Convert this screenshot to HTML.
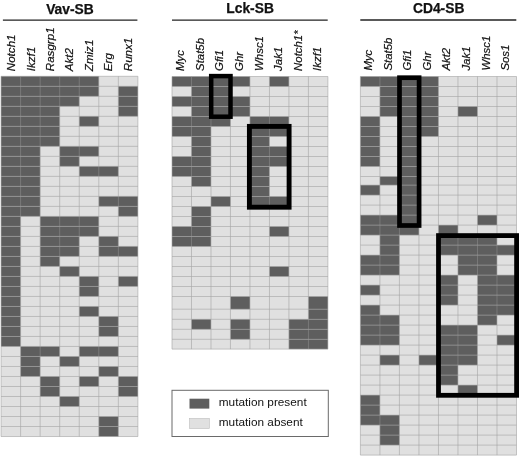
<!DOCTYPE html>
<html><head><meta charset="utf-8"><title>Mutation matrix</title>
<style>
html,body{margin:0;padding:0;background:#fff;}
svg{display:block;font-family:"Liberation Sans",Arial,sans-serif;}
</style></head>
<body>
<svg width="520" height="457" viewBox="0 0 520 457">
<rect width="520" height="457" fill="#fff"/>
<rect x="1.05" y="76.30" width="136.85" height="360.22" fill="#e0e0e0"/>
<rect x="1.05" y="76.30" width="97.75" height="10.01" fill="#5e5e5e"/>
<rect x="1.05" y="86.31" width="97.75" height="10.01" fill="#5e5e5e"/>
<rect x="118.35" y="86.31" width="19.55" height="10.01" fill="#5e5e5e"/>
<rect x="1.05" y="96.31" width="78.20" height="10.01" fill="#5e5e5e"/>
<rect x="118.35" y="96.31" width="19.55" height="10.01" fill="#5e5e5e"/>
<rect x="1.05" y="106.32" width="58.65" height="10.01" fill="#5e5e5e"/>
<rect x="118.35" y="106.32" width="19.55" height="10.01" fill="#5e5e5e"/>
<rect x="1.05" y="116.32" width="58.65" height="10.01" fill="#5e5e5e"/>
<rect x="79.25" y="116.32" width="19.55" height="10.01" fill="#5e5e5e"/>
<rect x="1.05" y="126.33" width="58.65" height="10.01" fill="#5e5e5e"/>
<rect x="1.05" y="136.34" width="58.65" height="10.01" fill="#5e5e5e"/>
<rect x="1.05" y="146.34" width="39.10" height="10.01" fill="#5e5e5e"/>
<rect x="59.70" y="146.34" width="39.10" height="10.01" fill="#5e5e5e"/>
<rect x="1.05" y="156.35" width="39.10" height="10.01" fill="#5e5e5e"/>
<rect x="59.70" y="156.35" width="19.55" height="10.01" fill="#5e5e5e"/>
<rect x="1.05" y="166.35" width="39.10" height="10.01" fill="#5e5e5e"/>
<rect x="79.25" y="166.35" width="39.10" height="10.01" fill="#5e5e5e"/>
<rect x="1.05" y="176.36" width="39.10" height="10.01" fill="#5e5e5e"/>
<rect x="1.05" y="186.37" width="39.10" height="10.01" fill="#5e5e5e"/>
<rect x="1.05" y="196.37" width="39.10" height="10.01" fill="#5e5e5e"/>
<rect x="98.80" y="196.37" width="39.10" height="10.01" fill="#5e5e5e"/>
<rect x="1.05" y="206.38" width="39.10" height="10.01" fill="#5e5e5e"/>
<rect x="118.35" y="206.38" width="19.55" height="10.01" fill="#5e5e5e"/>
<rect x="1.05" y="216.38" width="19.55" height="10.01" fill="#5e5e5e"/>
<rect x="40.15" y="216.38" width="58.65" height="10.01" fill="#5e5e5e"/>
<rect x="1.05" y="226.39" width="19.55" height="10.01" fill="#5e5e5e"/>
<rect x="40.15" y="226.39" width="58.65" height="10.01" fill="#5e5e5e"/>
<rect x="1.05" y="236.40" width="19.55" height="10.01" fill="#5e5e5e"/>
<rect x="40.15" y="236.40" width="39.10" height="10.01" fill="#5e5e5e"/>
<rect x="98.80" y="236.40" width="19.55" height="10.01" fill="#5e5e5e"/>
<rect x="1.05" y="246.40" width="19.55" height="10.01" fill="#5e5e5e"/>
<rect x="40.15" y="246.40" width="39.10" height="10.01" fill="#5e5e5e"/>
<rect x="98.80" y="246.40" width="39.10" height="10.01" fill="#5e5e5e"/>
<rect x="1.05" y="256.41" width="19.55" height="10.01" fill="#5e5e5e"/>
<rect x="40.15" y="256.41" width="19.55" height="10.01" fill="#5e5e5e"/>
<rect x="1.05" y="266.41" width="19.55" height="10.01" fill="#5e5e5e"/>
<rect x="59.70" y="266.41" width="19.55" height="10.01" fill="#5e5e5e"/>
<rect x="1.05" y="276.42" width="19.55" height="10.01" fill="#5e5e5e"/>
<rect x="79.25" y="276.42" width="19.55" height="10.01" fill="#5e5e5e"/>
<rect x="118.35" y="276.42" width="19.55" height="10.01" fill="#5e5e5e"/>
<rect x="1.05" y="286.43" width="19.55" height="10.01" fill="#5e5e5e"/>
<rect x="79.25" y="286.43" width="19.55" height="10.01" fill="#5e5e5e"/>
<rect x="1.05" y="296.43" width="19.55" height="10.01" fill="#5e5e5e"/>
<rect x="1.05" y="306.44" width="19.55" height="10.01" fill="#5e5e5e"/>
<rect x="79.25" y="306.44" width="19.55" height="10.01" fill="#5e5e5e"/>
<rect x="1.05" y="316.44" width="19.55" height="10.01" fill="#5e5e5e"/>
<rect x="98.80" y="316.44" width="19.55" height="10.01" fill="#5e5e5e"/>
<rect x="1.05" y="326.45" width="19.55" height="10.01" fill="#5e5e5e"/>
<rect x="98.80" y="326.45" width="19.55" height="10.01" fill="#5e5e5e"/>
<rect x="1.05" y="336.46" width="19.55" height="10.01" fill="#5e5e5e"/>
<rect x="20.60" y="346.46" width="39.10" height="10.01" fill="#5e5e5e"/>
<rect x="79.25" y="346.46" width="39.10" height="10.01" fill="#5e5e5e"/>
<rect x="20.60" y="356.47" width="19.55" height="10.01" fill="#5e5e5e"/>
<rect x="59.70" y="356.47" width="19.55" height="10.01" fill="#5e5e5e"/>
<rect x="20.60" y="366.47" width="19.55" height="10.01" fill="#5e5e5e"/>
<rect x="98.80" y="366.47" width="19.55" height="10.01" fill="#5e5e5e"/>
<rect x="40.15" y="376.48" width="19.55" height="10.01" fill="#5e5e5e"/>
<rect x="79.25" y="376.48" width="19.55" height="10.01" fill="#5e5e5e"/>
<rect x="118.35" y="376.48" width="19.55" height="10.01" fill="#5e5e5e"/>
<rect x="40.15" y="386.49" width="19.55" height="10.01" fill="#5e5e5e"/>
<rect x="118.35" y="386.49" width="19.55" height="10.01" fill="#5e5e5e"/>
<rect x="59.70" y="396.49" width="19.55" height="10.01" fill="#5e5e5e"/>
<rect x="98.80" y="416.50" width="19.55" height="10.01" fill="#5e5e5e"/>
<rect x="98.80" y="426.51" width="19.55" height="10.01" fill="#5e5e5e"/>
<path d="M20.60 76.30V86.31M20.60 86.31V96.31M20.60 96.31V106.32M20.60 106.32V116.32M20.60 116.32V126.33M20.60 126.33V136.34M20.60 136.34V146.34M20.60 146.34V156.35M20.60 156.35V166.35M20.60 166.35V176.36M20.60 176.36V186.37M20.60 186.37V196.37M20.60 196.37V206.38M20.60 206.38V216.38M40.15 76.30V86.31M40.15 86.31V96.31M40.15 96.31V106.32M40.15 106.32V116.32M40.15 116.32V126.33M40.15 126.33V136.34M40.15 136.34V146.34M40.15 346.46V356.47M59.70 76.30V86.31M59.70 86.31V96.31M59.70 96.31V106.32M59.70 216.38V226.39M59.70 226.39V236.40M59.70 236.40V246.40M59.70 246.40V256.41M79.25 76.30V86.31M79.25 86.31V96.31M79.25 146.34V156.35M79.25 216.38V226.39M79.25 226.39V236.40M98.80 166.35V176.36M98.80 346.46V356.47M118.35 196.37V206.38M118.35 246.40V256.41" stroke="#8c8c8c" stroke-width="0.6" fill="none"/>
<path d="M1.05 76.30V86.31M1.05 86.31V96.31M1.05 96.31V106.32M1.05 106.32V116.32M1.05 116.32V126.33M1.05 126.33V136.34M1.05 136.34V146.34M1.05 146.34V156.35M1.05 156.35V166.35M1.05 166.35V176.36M1.05 176.36V186.37M1.05 186.37V196.37M1.05 196.37V206.38M1.05 206.38V216.38M1.05 216.38V226.39M1.05 226.39V236.40M1.05 236.40V246.40M1.05 246.40V256.41M1.05 256.41V266.41M1.05 266.41V276.42M1.05 276.42V286.43M1.05 286.43V296.43M1.05 296.43V306.44M1.05 306.44V316.44M1.05 316.44V326.45M1.05 326.45V336.46M1.05 336.46V346.46M1.05 346.46V356.47M1.05 356.47V366.47M1.05 366.47V376.48M1.05 376.48V386.49M1.05 386.49V396.49M1.05 396.49V406.50M1.05 406.50V416.50M1.05 416.50V426.51M1.05 426.51V436.52M20.60 216.38V226.39M20.60 226.39V236.40M20.60 236.40V246.40M20.60 246.40V256.41M20.60 256.41V266.41M20.60 266.41V276.42M20.60 276.42V286.43M20.60 286.43V296.43M20.60 296.43V306.44M20.60 306.44V316.44M20.60 316.44V326.45M20.60 326.45V336.46M20.60 336.46V346.46M20.60 346.46V356.47M20.60 356.47V366.47M20.60 366.47V376.48M20.60 376.48V386.49M20.60 386.49V396.49M20.60 396.49V406.50M20.60 406.50V416.50M20.60 416.50V426.51M20.60 426.51V436.52M40.15 146.34V156.35M40.15 156.35V166.35M40.15 166.35V176.36M40.15 176.36V186.37M40.15 186.37V196.37M40.15 196.37V206.38M40.15 206.38V216.38M40.15 216.38V226.39M40.15 226.39V236.40M40.15 236.40V246.40M40.15 246.40V256.41M40.15 256.41V266.41M40.15 266.41V276.42M40.15 276.42V286.43M40.15 286.43V296.43M40.15 296.43V306.44M40.15 306.44V316.44M40.15 316.44V326.45M40.15 326.45V336.46M40.15 336.46V346.46M40.15 356.47V366.47M40.15 366.47V376.48M40.15 376.48V386.49M40.15 386.49V396.49M40.15 396.49V406.50M40.15 406.50V416.50M40.15 416.50V426.51M40.15 426.51V436.52M59.70 106.32V116.32M59.70 116.32V126.33M59.70 126.33V136.34M59.70 136.34V146.34M59.70 146.34V156.35M59.70 156.35V166.35M59.70 166.35V176.36M59.70 176.36V186.37M59.70 186.37V196.37M59.70 196.37V206.38M59.70 206.38V216.38M59.70 256.41V266.41M59.70 266.41V276.42M59.70 276.42V286.43M59.70 286.43V296.43M59.70 296.43V306.44M59.70 306.44V316.44M59.70 316.44V326.45M59.70 326.45V336.46M59.70 336.46V346.46M59.70 346.46V356.47M59.70 356.47V366.47M59.70 366.47V376.48M59.70 376.48V386.49M59.70 386.49V396.49M59.70 396.49V406.50M59.70 406.50V416.50M59.70 416.50V426.51M59.70 426.51V436.52M79.25 96.31V106.32M79.25 106.32V116.32M79.25 116.32V126.33M79.25 126.33V136.34M79.25 136.34V146.34M79.25 156.35V166.35M79.25 166.35V176.36M79.25 176.36V186.37M79.25 186.37V196.37M79.25 196.37V206.38M79.25 206.38V216.38M79.25 236.40V246.40M79.25 246.40V256.41M79.25 256.41V266.41M79.25 266.41V276.42M79.25 276.42V286.43M79.25 286.43V296.43M79.25 296.43V306.44M79.25 306.44V316.44M79.25 316.44V326.45M79.25 326.45V336.46M79.25 336.46V346.46M79.25 346.46V356.47M79.25 356.47V366.47M79.25 366.47V376.48M79.25 376.48V386.49M79.25 386.49V396.49M79.25 396.49V406.50M79.25 406.50V416.50M79.25 416.50V426.51M79.25 426.51V436.52M98.80 76.30V86.31M98.80 86.31V96.31M98.80 96.31V106.32M98.80 106.32V116.32M98.80 116.32V126.33M98.80 126.33V136.34M98.80 136.34V146.34M98.80 146.34V156.35M98.80 156.35V166.35M98.80 176.36V186.37M98.80 186.37V196.37M98.80 196.37V206.38M98.80 206.38V216.38M98.80 216.38V226.39M98.80 226.39V236.40M98.80 236.40V246.40M98.80 246.40V256.41M98.80 256.41V266.41M98.80 266.41V276.42M98.80 276.42V286.43M98.80 286.43V296.43M98.80 296.43V306.44M98.80 306.44V316.44M98.80 316.44V326.45M98.80 326.45V336.46M98.80 336.46V346.46M98.80 356.47V366.47M98.80 366.47V376.48M98.80 376.48V386.49M98.80 386.49V396.49M98.80 396.49V406.50M98.80 406.50V416.50M98.80 416.50V426.51M98.80 426.51V436.52M118.35 76.30V86.31M118.35 86.31V96.31M118.35 96.31V106.32M118.35 106.32V116.32M118.35 116.32V126.33M118.35 126.33V136.34M118.35 136.34V146.34M118.35 146.34V156.35M118.35 156.35V166.35M118.35 166.35V176.36M118.35 176.36V186.37M118.35 186.37V196.37M118.35 206.38V216.38M118.35 216.38V226.39M118.35 226.39V236.40M118.35 236.40V246.40M118.35 256.41V266.41M118.35 266.41V276.42M118.35 276.42V286.43M118.35 286.43V296.43M118.35 296.43V306.44M118.35 306.44V316.44M118.35 316.44V326.45M118.35 326.45V336.46M118.35 336.46V346.46M118.35 346.46V356.47M118.35 356.47V366.47M118.35 366.47V376.48M118.35 376.48V386.49M118.35 386.49V396.49M118.35 396.49V406.50M118.35 406.50V416.50M118.35 416.50V426.51M118.35 426.51V436.52M137.90 76.30V86.31M137.90 86.31V96.31M137.90 96.31V106.32M137.90 106.32V116.32M137.90 116.32V126.33M137.90 126.33V136.34M137.90 136.34V146.34M137.90 146.34V156.35M137.90 156.35V166.35M137.90 166.35V176.36M137.90 176.36V186.37M137.90 186.37V196.37M137.90 196.37V206.38M137.90 206.38V216.38M137.90 216.38V226.39M137.90 226.39V236.40M137.90 236.40V246.40M137.90 246.40V256.41M137.90 256.41V266.41M137.90 266.41V276.42M137.90 276.42V286.43M137.90 286.43V296.43M137.90 296.43V306.44M137.90 306.44V316.44M137.90 316.44V326.45M137.90 326.45V336.46M137.90 336.46V346.46M137.90 346.46V356.47M137.90 356.47V366.47M137.90 366.47V376.48M137.90 376.48V386.49M137.90 386.49V396.49M137.90 396.49V406.50M137.90 406.50V416.50M137.90 416.50V426.51M137.90 426.51V436.52" stroke="#a2a2a2" stroke-width="0.6" fill="none"/>
<path d="M1.05 76.30H137.90M1.05 86.31H137.90M1.05 96.31H137.90M1.05 106.32H137.90M1.05 116.32H137.90M1.05 126.33H137.90M1.05 136.34H137.90M1.05 146.34H137.90M1.05 156.35H137.90M1.05 166.35H137.90M1.05 176.36H137.90M1.05 186.37H137.90M1.05 196.37H137.90M1.05 206.38H137.90M1.05 216.38H137.90M1.05 226.39H137.90M1.05 236.40H137.90M1.05 246.40H137.90M1.05 256.41H137.90M1.05 266.41H137.90M1.05 276.42H137.90M1.05 286.43H137.90M1.05 296.43H137.90M1.05 306.44H137.90M1.05 316.44H137.90M1.05 326.45H137.90M1.05 336.46H137.90M1.05 346.46H137.90M1.05 356.47H137.90M1.05 366.47H137.90M1.05 376.48H137.90M1.05 386.49H137.90M1.05 396.49H137.90M1.05 406.50H137.90M1.05 416.50H137.90M1.05 426.51H137.90M1.05 436.52H137.90" stroke="#a2a2a2" stroke-width="0.6" fill="none"/>
<rect x="172.00" y="76.50" width="155.90" height="272.60" fill="#e0e0e0"/>
<rect x="172.00" y="76.50" width="77.95" height="10.00" fill="#5e5e5e"/>
<rect x="269.44" y="76.50" width="19.49" height="10.00" fill="#5e5e5e"/>
<rect x="191.49" y="86.50" width="38.97" height="10.00" fill="#5e5e5e"/>
<rect x="172.00" y="96.50" width="77.95" height="10.00" fill="#5e5e5e"/>
<rect x="191.49" y="106.50" width="58.46" height="10.00" fill="#5e5e5e"/>
<rect x="172.00" y="116.50" width="58.46" height="10.00" fill="#5e5e5e"/>
<rect x="249.95" y="116.50" width="38.97" height="10.00" fill="#5e5e5e"/>
<rect x="172.00" y="126.50" width="38.97" height="10.00" fill="#5e5e5e"/>
<rect x="249.95" y="126.50" width="38.97" height="10.00" fill="#5e5e5e"/>
<rect x="191.49" y="136.50" width="19.49" height="10.00" fill="#5e5e5e"/>
<rect x="249.95" y="136.50" width="19.49" height="10.00" fill="#5e5e5e"/>
<rect x="191.49" y="146.50" width="19.49" height="10.00" fill="#5e5e5e"/>
<rect x="249.95" y="146.50" width="38.97" height="10.00" fill="#5e5e5e"/>
<rect x="172.00" y="156.50" width="38.97" height="10.00" fill="#5e5e5e"/>
<rect x="249.95" y="156.50" width="38.97" height="10.00" fill="#5e5e5e"/>
<rect x="172.00" y="166.50" width="38.97" height="10.00" fill="#5e5e5e"/>
<rect x="249.95" y="166.50" width="19.49" height="10.00" fill="#5e5e5e"/>
<rect x="191.49" y="176.50" width="19.49" height="10.00" fill="#5e5e5e"/>
<rect x="249.95" y="176.50" width="19.49" height="10.00" fill="#5e5e5e"/>
<rect x="249.95" y="186.50" width="19.49" height="10.00" fill="#5e5e5e"/>
<rect x="210.97" y="196.50" width="19.49" height="10.00" fill="#5e5e5e"/>
<rect x="249.95" y="196.50" width="38.97" height="10.00" fill="#5e5e5e"/>
<rect x="191.49" y="206.50" width="19.49" height="10.00" fill="#5e5e5e"/>
<rect x="191.49" y="216.50" width="19.49" height="10.00" fill="#5e5e5e"/>
<rect x="172.00" y="226.50" width="38.97" height="10.00" fill="#5e5e5e"/>
<rect x="269.44" y="226.50" width="19.49" height="10.00" fill="#5e5e5e"/>
<rect x="172.00" y="236.50" width="38.97" height="10.00" fill="#5e5e5e"/>
<rect x="269.44" y="266.50" width="19.49" height="10.00" fill="#5e5e5e"/>
<rect x="230.46" y="296.50" width="19.49" height="12.70" fill="#5e5e5e"/>
<rect x="308.41" y="296.50" width="19.49" height="12.70" fill="#5e5e5e"/>
<rect x="308.41" y="309.20" width="19.49" height="10.10" fill="#5e5e5e"/>
<rect x="191.49" y="319.30" width="19.49" height="10.00" fill="#5e5e5e"/>
<rect x="230.46" y="319.30" width="19.49" height="10.00" fill="#5e5e5e"/>
<rect x="288.92" y="319.30" width="38.98" height="10.00" fill="#5e5e5e"/>
<rect x="230.46" y="329.30" width="19.49" height="10.00" fill="#5e5e5e"/>
<rect x="288.92" y="329.30" width="38.98" height="10.00" fill="#5e5e5e"/>
<rect x="288.92" y="339.30" width="38.98" height="9.80" fill="#5e5e5e"/>
<path d="M191.49 76.50V86.50M191.49 96.50V106.50M191.49 116.50V126.50M191.49 126.50V136.50M191.49 156.50V166.50M191.49 166.50V176.50M191.49 226.50V236.50M191.49 236.50V246.50M210.97 76.50V86.50M210.97 86.50V96.50M210.97 96.50V106.50M210.97 106.50V116.50M210.97 116.50V126.50M230.46 76.50V86.50M230.46 96.50V106.50M230.46 106.50V116.50M269.44 116.50V126.50M269.44 126.50V136.50M269.44 146.50V156.50M269.44 156.50V166.50M269.44 196.50V206.50M308.41 319.30V329.30M308.41 329.30V339.30M308.41 339.30V349.10" stroke="#8c8c8c" stroke-width="0.6" fill="none"/>
<path d="M172.00 76.50V86.50M172.00 86.50V96.50M172.00 96.50V106.50M172.00 106.50V116.50M172.00 116.50V126.50M172.00 126.50V136.50M172.00 136.50V146.50M172.00 146.50V156.50M172.00 156.50V166.50M172.00 166.50V176.50M172.00 176.50V186.50M172.00 186.50V196.50M172.00 196.50V206.50M172.00 206.50V216.50M172.00 216.50V226.50M172.00 226.50V236.50M172.00 236.50V246.50M172.00 246.50V256.50M172.00 256.50V266.50M172.00 266.50V276.50M172.00 276.50V286.50M172.00 286.50V296.50M172.00 296.50V309.20M172.00 309.20V319.30M172.00 319.30V329.30M172.00 329.30V339.30M172.00 339.30V349.10M191.49 86.50V96.50M191.49 106.50V116.50M191.49 136.50V146.50M191.49 146.50V156.50M191.49 176.50V186.50M191.49 186.50V196.50M191.49 196.50V206.50M191.49 206.50V216.50M191.49 216.50V226.50M191.49 246.50V256.50M191.49 256.50V266.50M191.49 266.50V276.50M191.49 276.50V286.50M191.49 286.50V296.50M191.49 296.50V309.20M191.49 309.20V319.30M191.49 319.30V329.30M191.49 329.30V339.30M191.49 339.30V349.10M210.97 126.50V136.50M210.97 136.50V146.50M210.97 146.50V156.50M210.97 156.50V166.50M210.97 166.50V176.50M210.97 176.50V186.50M210.97 186.50V196.50M210.97 196.50V206.50M210.97 206.50V216.50M210.97 216.50V226.50M210.97 226.50V236.50M210.97 236.50V246.50M210.97 246.50V256.50M210.97 256.50V266.50M210.97 266.50V276.50M210.97 276.50V286.50M210.97 286.50V296.50M210.97 296.50V309.20M210.97 309.20V319.30M210.97 319.30V329.30M210.97 329.30V339.30M210.97 339.30V349.10M230.46 86.50V96.50M230.46 116.50V126.50M230.46 126.50V136.50M230.46 136.50V146.50M230.46 146.50V156.50M230.46 156.50V166.50M230.46 166.50V176.50M230.46 176.50V186.50M230.46 186.50V196.50M230.46 196.50V206.50M230.46 206.50V216.50M230.46 216.50V226.50M230.46 226.50V236.50M230.46 236.50V246.50M230.46 246.50V256.50M230.46 256.50V266.50M230.46 266.50V276.50M230.46 276.50V286.50M230.46 286.50V296.50M230.46 296.50V309.20M230.46 309.20V319.30M230.46 319.30V329.30M230.46 329.30V339.30M230.46 339.30V349.10M249.95 76.50V86.50M249.95 86.50V96.50M249.95 96.50V106.50M249.95 106.50V116.50M249.95 116.50V126.50M249.95 126.50V136.50M249.95 136.50V146.50M249.95 146.50V156.50M249.95 156.50V166.50M249.95 166.50V176.50M249.95 176.50V186.50M249.95 186.50V196.50M249.95 196.50V206.50M249.95 206.50V216.50M249.95 216.50V226.50M249.95 226.50V236.50M249.95 236.50V246.50M249.95 246.50V256.50M249.95 256.50V266.50M249.95 266.50V276.50M249.95 276.50V286.50M249.95 286.50V296.50M249.95 296.50V309.20M249.95 309.20V319.30M249.95 319.30V329.30M249.95 329.30V339.30M249.95 339.30V349.10M269.44 76.50V86.50M269.44 86.50V96.50M269.44 96.50V106.50M269.44 106.50V116.50M269.44 136.50V146.50M269.44 166.50V176.50M269.44 176.50V186.50M269.44 186.50V196.50M269.44 206.50V216.50M269.44 216.50V226.50M269.44 226.50V236.50M269.44 236.50V246.50M269.44 246.50V256.50M269.44 256.50V266.50M269.44 266.50V276.50M269.44 276.50V286.50M269.44 286.50V296.50M269.44 296.50V309.20M269.44 309.20V319.30M269.44 319.30V329.30M269.44 329.30V339.30M269.44 339.30V349.10M288.92 76.50V86.50M288.92 86.50V96.50M288.92 96.50V106.50M288.92 106.50V116.50M288.92 116.50V126.50M288.92 126.50V136.50M288.92 136.50V146.50M288.92 146.50V156.50M288.92 156.50V166.50M288.92 166.50V176.50M288.92 176.50V186.50M288.92 186.50V196.50M288.92 196.50V206.50M288.92 206.50V216.50M288.92 216.50V226.50M288.92 226.50V236.50M288.92 236.50V246.50M288.92 246.50V256.50M288.92 256.50V266.50M288.92 266.50V276.50M288.92 276.50V286.50M288.92 286.50V296.50M288.92 296.50V309.20M288.92 309.20V319.30M288.92 319.30V329.30M288.92 329.30V339.30M288.92 339.30V349.10M308.41 76.50V86.50M308.41 86.50V96.50M308.41 96.50V106.50M308.41 106.50V116.50M308.41 116.50V126.50M308.41 126.50V136.50M308.41 136.50V146.50M308.41 146.50V156.50M308.41 156.50V166.50M308.41 166.50V176.50M308.41 176.50V186.50M308.41 186.50V196.50M308.41 196.50V206.50M308.41 206.50V216.50M308.41 216.50V226.50M308.41 226.50V236.50M308.41 236.50V246.50M308.41 246.50V256.50M308.41 256.50V266.50M308.41 266.50V276.50M308.41 276.50V286.50M308.41 286.50V296.50M308.41 296.50V309.20M308.41 309.20V319.30M327.90 76.50V86.50M327.90 86.50V96.50M327.90 96.50V106.50M327.90 106.50V116.50M327.90 116.50V126.50M327.90 126.50V136.50M327.90 136.50V146.50M327.90 146.50V156.50M327.90 156.50V166.50M327.90 166.50V176.50M327.90 176.50V186.50M327.90 186.50V196.50M327.90 196.50V206.50M327.90 206.50V216.50M327.90 216.50V226.50M327.90 226.50V236.50M327.90 236.50V246.50M327.90 246.50V256.50M327.90 256.50V266.50M327.90 266.50V276.50M327.90 276.50V286.50M327.90 286.50V296.50M327.90 296.50V309.20M327.90 309.20V319.30M327.90 319.30V329.30M327.90 329.30V339.30M327.90 339.30V349.10" stroke="#a2a2a2" stroke-width="0.6" fill="none"/>
<path d="M172.00 76.50H327.90M172.00 86.50H327.90M172.00 96.50H327.90M172.00 106.50H327.90M172.00 116.50H327.90M172.00 126.50H327.90M172.00 136.50H327.90M172.00 146.50H327.90M172.00 156.50H327.90M172.00 166.50H327.90M172.00 176.50H327.90M172.00 186.50H327.90M172.00 196.50H327.90M172.00 206.50H327.90M172.00 216.50H327.90M172.00 226.50H327.90M172.00 236.50H327.90M172.00 246.50H327.90M172.00 256.50H327.90M172.00 266.50H327.90M172.00 276.50H327.90M172.00 286.50H327.90M172.00 296.50H327.90M172.00 309.20H327.90M172.00 319.30H327.90M172.00 329.30H327.90M172.00 339.30H327.90M172.00 349.10H327.90" stroke="#a2a2a2" stroke-width="0.6" fill="none"/>
<rect x="360.40" y="76.50" width="156.10" height="378.60" fill="#e0e0e0"/>
<rect x="360.40" y="76.50" width="78.05" height="10.00" fill="#5e5e5e"/>
<rect x="379.91" y="86.50" width="58.54" height="10.00" fill="#5e5e5e"/>
<rect x="379.91" y="96.50" width="58.54" height="10.00" fill="#5e5e5e"/>
<rect x="379.91" y="106.50" width="58.54" height="10.00" fill="#5e5e5e"/>
<rect x="457.96" y="106.50" width="19.51" height="10.00" fill="#5e5e5e"/>
<rect x="360.40" y="116.50" width="19.51" height="10.00" fill="#5e5e5e"/>
<rect x="399.42" y="116.50" width="39.03" height="10.00" fill="#5e5e5e"/>
<rect x="360.40" y="126.50" width="19.51" height="10.00" fill="#5e5e5e"/>
<rect x="399.42" y="126.50" width="39.03" height="10.00" fill="#5e5e5e"/>
<rect x="360.40" y="136.50" width="19.51" height="10.00" fill="#5e5e5e"/>
<rect x="399.42" y="136.50" width="19.51" height="10.00" fill="#5e5e5e"/>
<rect x="360.40" y="146.50" width="19.51" height="10.00" fill="#5e5e5e"/>
<rect x="399.42" y="146.50" width="19.51" height="10.00" fill="#5e5e5e"/>
<rect x="360.40" y="156.50" width="19.51" height="10.00" fill="#5e5e5e"/>
<rect x="399.42" y="156.50" width="19.51" height="10.00" fill="#5e5e5e"/>
<rect x="399.42" y="166.50" width="19.51" height="10.00" fill="#5e5e5e"/>
<rect x="379.91" y="176.50" width="39.03" height="8.60" fill="#5e5e5e"/>
<rect x="360.40" y="185.10" width="19.51" height="10.00" fill="#5e5e5e"/>
<rect x="399.42" y="185.10" width="19.51" height="10.00" fill="#5e5e5e"/>
<rect x="399.42" y="195.10" width="19.51" height="10.00" fill="#5e5e5e"/>
<rect x="399.42" y="205.10" width="19.51" height="10.00" fill="#5e5e5e"/>
<rect x="360.40" y="215.10" width="58.54" height="10.00" fill="#5e5e5e"/>
<rect x="477.48" y="215.10" width="19.51" height="10.00" fill="#5e5e5e"/>
<rect x="360.40" y="225.10" width="58.54" height="10.00" fill="#5e5e5e"/>
<rect x="438.45" y="225.10" width="19.51" height="10.00" fill="#5e5e5e"/>
<rect x="379.91" y="235.10" width="19.51" height="10.00" fill="#5e5e5e"/>
<rect x="438.45" y="235.10" width="58.54" height="10.00" fill="#5e5e5e"/>
<rect x="379.91" y="245.10" width="19.51" height="10.00" fill="#5e5e5e"/>
<rect x="438.45" y="245.10" width="78.05" height="10.00" fill="#5e5e5e"/>
<rect x="360.40" y="255.10" width="39.02" height="10.00" fill="#5e5e5e"/>
<rect x="457.96" y="255.10" width="39.03" height="10.00" fill="#5e5e5e"/>
<rect x="360.40" y="265.10" width="39.02" height="10.00" fill="#5e5e5e"/>
<rect x="457.96" y="265.10" width="39.03" height="10.00" fill="#5e5e5e"/>
<rect x="438.45" y="275.10" width="19.51" height="10.00" fill="#5e5e5e"/>
<rect x="477.48" y="275.10" width="39.02" height="10.00" fill="#5e5e5e"/>
<rect x="360.40" y="285.10" width="19.51" height="10.00" fill="#5e5e5e"/>
<rect x="438.45" y="285.10" width="19.51" height="10.00" fill="#5e5e5e"/>
<rect x="477.48" y="285.10" width="39.02" height="10.00" fill="#5e5e5e"/>
<rect x="438.45" y="295.10" width="19.51" height="10.00" fill="#5e5e5e"/>
<rect x="477.48" y="295.10" width="39.02" height="10.00" fill="#5e5e5e"/>
<rect x="360.40" y="305.10" width="19.51" height="10.00" fill="#5e5e5e"/>
<rect x="477.48" y="305.10" width="39.02" height="10.00" fill="#5e5e5e"/>
<rect x="360.40" y="315.10" width="39.02" height="10.00" fill="#5e5e5e"/>
<rect x="477.48" y="315.10" width="19.51" height="10.00" fill="#5e5e5e"/>
<rect x="360.40" y="325.10" width="39.02" height="10.00" fill="#5e5e5e"/>
<rect x="438.45" y="325.10" width="39.03" height="10.00" fill="#5e5e5e"/>
<rect x="360.40" y="335.10" width="39.02" height="10.00" fill="#5e5e5e"/>
<rect x="438.45" y="335.10" width="39.03" height="10.00" fill="#5e5e5e"/>
<rect x="496.99" y="335.10" width="19.51" height="10.00" fill="#5e5e5e"/>
<rect x="438.45" y="345.10" width="39.03" height="10.00" fill="#5e5e5e"/>
<rect x="379.91" y="355.10" width="19.51" height="10.00" fill="#5e5e5e"/>
<rect x="418.94" y="355.10" width="58.54" height="10.00" fill="#5e5e5e"/>
<rect x="438.45" y="365.10" width="19.51" height="10.00" fill="#5e5e5e"/>
<rect x="438.45" y="375.10" width="19.51" height="10.00" fill="#5e5e5e"/>
<rect x="457.96" y="385.10" width="19.51" height="10.00" fill="#5e5e5e"/>
<rect x="360.40" y="395.10" width="19.51" height="10.00" fill="#5e5e5e"/>
<rect x="360.40" y="405.10" width="19.51" height="10.00" fill="#5e5e5e"/>
<rect x="360.40" y="415.10" width="39.02" height="10.00" fill="#5e5e5e"/>
<rect x="379.91" y="425.10" width="19.51" height="10.00" fill="#5e5e5e"/>
<rect x="379.91" y="435.10" width="19.51" height="10.00" fill="#5e5e5e"/>
<path d="M379.91 76.50V86.50M379.91 215.10V225.10M379.91 225.10V235.10M379.91 255.10V265.10M379.91 265.10V275.10M379.91 315.10V325.10M379.91 325.10V335.10M379.91 335.10V345.10M379.91 415.10V425.10M399.42 76.50V86.50M399.42 86.50V96.50M399.42 96.50V106.50M399.42 106.50V116.50M399.42 176.50V185.10M399.42 215.10V225.10M399.42 225.10V235.10M418.94 76.50V86.50M418.94 86.50V96.50M418.94 96.50V106.50M418.94 106.50V116.50M418.94 116.50V126.50M418.94 126.50V136.50M438.45 355.10V365.10M457.96 235.10V245.10M457.96 245.10V255.10M457.96 325.10V335.10M457.96 335.10V345.10M457.96 345.10V355.10M457.96 355.10V365.10M477.48 235.10V245.10M477.48 245.10V255.10M477.48 255.10V265.10M477.48 265.10V275.10M496.99 245.10V255.10M496.99 275.10V285.10M496.99 285.10V295.10M496.99 295.10V305.10M496.99 305.10V315.10" stroke="#8c8c8c" stroke-width="0.6" fill="none"/>
<path d="M360.40 76.50V86.50M360.40 86.50V96.50M360.40 96.50V106.50M360.40 106.50V116.50M360.40 116.50V126.50M360.40 126.50V136.50M360.40 136.50V146.50M360.40 146.50V156.50M360.40 156.50V166.50M360.40 166.50V176.50M360.40 176.50V185.10M360.40 185.10V195.10M360.40 195.10V205.10M360.40 205.10V215.10M360.40 215.10V225.10M360.40 225.10V235.10M360.40 235.10V245.10M360.40 245.10V255.10M360.40 255.10V265.10M360.40 265.10V275.10M360.40 275.10V285.10M360.40 285.10V295.10M360.40 295.10V305.10M360.40 305.10V315.10M360.40 315.10V325.10M360.40 325.10V335.10M360.40 335.10V345.10M360.40 345.10V355.10M360.40 355.10V365.10M360.40 365.10V375.10M360.40 375.10V385.10M360.40 385.10V395.10M360.40 395.10V405.10M360.40 405.10V415.10M360.40 415.10V425.10M360.40 425.10V435.10M360.40 435.10V445.10M360.40 445.10V455.10M379.91 86.50V96.50M379.91 96.50V106.50M379.91 106.50V116.50M379.91 116.50V126.50M379.91 126.50V136.50M379.91 136.50V146.50M379.91 146.50V156.50M379.91 156.50V166.50M379.91 166.50V176.50M379.91 176.50V185.10M379.91 185.10V195.10M379.91 195.10V205.10M379.91 205.10V215.10M379.91 235.10V245.10M379.91 245.10V255.10M379.91 275.10V285.10M379.91 285.10V295.10M379.91 295.10V305.10M379.91 305.10V315.10M379.91 345.10V355.10M379.91 355.10V365.10M379.91 365.10V375.10M379.91 375.10V385.10M379.91 385.10V395.10M379.91 395.10V405.10M379.91 405.10V415.10M379.91 425.10V435.10M379.91 435.10V445.10M379.91 445.10V455.10M399.42 116.50V126.50M399.42 126.50V136.50M399.42 136.50V146.50M399.42 146.50V156.50M399.42 156.50V166.50M399.42 166.50V176.50M399.42 185.10V195.10M399.42 195.10V205.10M399.42 205.10V215.10M399.42 235.10V245.10M399.42 245.10V255.10M399.42 255.10V265.10M399.42 265.10V275.10M399.42 275.10V285.10M399.42 285.10V295.10M399.42 295.10V305.10M399.42 305.10V315.10M399.42 315.10V325.10M399.42 325.10V335.10M399.42 335.10V345.10M399.42 345.10V355.10M399.42 355.10V365.10M399.42 365.10V375.10M399.42 375.10V385.10M399.42 385.10V395.10M399.42 395.10V405.10M399.42 405.10V415.10M399.42 415.10V425.10M399.42 425.10V435.10M399.42 435.10V445.10M399.42 445.10V455.10M418.94 136.50V146.50M418.94 146.50V156.50M418.94 156.50V166.50M418.94 166.50V176.50M418.94 176.50V185.10M418.94 185.10V195.10M418.94 195.10V205.10M418.94 205.10V215.10M418.94 215.10V225.10M418.94 225.10V235.10M418.94 235.10V245.10M418.94 245.10V255.10M418.94 255.10V265.10M418.94 265.10V275.10M418.94 275.10V285.10M418.94 285.10V295.10M418.94 295.10V305.10M418.94 305.10V315.10M418.94 315.10V325.10M418.94 325.10V335.10M418.94 335.10V345.10M418.94 345.10V355.10M418.94 355.10V365.10M418.94 365.10V375.10M418.94 375.10V385.10M418.94 385.10V395.10M418.94 395.10V405.10M418.94 405.10V415.10M418.94 415.10V425.10M418.94 425.10V435.10M418.94 435.10V445.10M418.94 445.10V455.10M438.45 76.50V86.50M438.45 86.50V96.50M438.45 96.50V106.50M438.45 106.50V116.50M438.45 116.50V126.50M438.45 126.50V136.50M438.45 136.50V146.50M438.45 146.50V156.50M438.45 156.50V166.50M438.45 166.50V176.50M438.45 176.50V185.10M438.45 185.10V195.10M438.45 195.10V205.10M438.45 205.10V215.10M438.45 215.10V225.10M438.45 225.10V235.10M438.45 235.10V245.10M438.45 245.10V255.10M438.45 255.10V265.10M438.45 265.10V275.10M438.45 275.10V285.10M438.45 285.10V295.10M438.45 295.10V305.10M438.45 305.10V315.10M438.45 315.10V325.10M438.45 325.10V335.10M438.45 335.10V345.10M438.45 345.10V355.10M438.45 365.10V375.10M438.45 375.10V385.10M438.45 385.10V395.10M438.45 395.10V405.10M438.45 405.10V415.10M438.45 415.10V425.10M438.45 425.10V435.10M438.45 435.10V445.10M438.45 445.10V455.10M457.96 76.50V86.50M457.96 86.50V96.50M457.96 96.50V106.50M457.96 106.50V116.50M457.96 116.50V126.50M457.96 126.50V136.50M457.96 136.50V146.50M457.96 146.50V156.50M457.96 156.50V166.50M457.96 166.50V176.50M457.96 176.50V185.10M457.96 185.10V195.10M457.96 195.10V205.10M457.96 205.10V215.10M457.96 215.10V225.10M457.96 225.10V235.10M457.96 255.10V265.10M457.96 265.10V275.10M457.96 275.10V285.10M457.96 285.10V295.10M457.96 295.10V305.10M457.96 305.10V315.10M457.96 315.10V325.10M457.96 365.10V375.10M457.96 375.10V385.10M457.96 385.10V395.10M457.96 395.10V405.10M457.96 405.10V415.10M457.96 415.10V425.10M457.96 425.10V435.10M457.96 435.10V445.10M457.96 445.10V455.10M477.48 76.50V86.50M477.48 86.50V96.50M477.48 96.50V106.50M477.48 106.50V116.50M477.48 116.50V126.50M477.48 126.50V136.50M477.48 136.50V146.50M477.48 146.50V156.50M477.48 156.50V166.50M477.48 166.50V176.50M477.48 176.50V185.10M477.48 185.10V195.10M477.48 195.10V205.10M477.48 205.10V215.10M477.48 215.10V225.10M477.48 225.10V235.10M477.48 275.10V285.10M477.48 285.10V295.10M477.48 295.10V305.10M477.48 305.10V315.10M477.48 315.10V325.10M477.48 325.10V335.10M477.48 335.10V345.10M477.48 345.10V355.10M477.48 355.10V365.10M477.48 365.10V375.10M477.48 375.10V385.10M477.48 385.10V395.10M477.48 395.10V405.10M477.48 405.10V415.10M477.48 415.10V425.10M477.48 425.10V435.10M477.48 435.10V445.10M477.48 445.10V455.10M496.99 76.50V86.50M496.99 86.50V96.50M496.99 96.50V106.50M496.99 106.50V116.50M496.99 116.50V126.50M496.99 126.50V136.50M496.99 136.50V146.50M496.99 146.50V156.50M496.99 156.50V166.50M496.99 166.50V176.50M496.99 176.50V185.10M496.99 185.10V195.10M496.99 195.10V205.10M496.99 205.10V215.10M496.99 215.10V225.10M496.99 225.10V235.10M496.99 235.10V245.10M496.99 255.10V265.10M496.99 265.10V275.10M496.99 315.10V325.10M496.99 325.10V335.10M496.99 335.10V345.10M496.99 345.10V355.10M496.99 355.10V365.10M496.99 365.10V375.10M496.99 375.10V385.10M496.99 385.10V395.10M496.99 395.10V405.10M496.99 405.10V415.10M496.99 415.10V425.10M496.99 425.10V435.10M496.99 435.10V445.10M496.99 445.10V455.10M516.50 76.50V86.50M516.50 86.50V96.50M516.50 96.50V106.50M516.50 106.50V116.50M516.50 116.50V126.50M516.50 126.50V136.50M516.50 136.50V146.50M516.50 146.50V156.50M516.50 156.50V166.50M516.50 166.50V176.50M516.50 176.50V185.10M516.50 185.10V195.10M516.50 195.10V205.10M516.50 205.10V215.10M516.50 215.10V225.10M516.50 225.10V235.10M516.50 235.10V245.10M516.50 245.10V255.10M516.50 255.10V265.10M516.50 265.10V275.10M516.50 275.10V285.10M516.50 285.10V295.10M516.50 295.10V305.10M516.50 305.10V315.10M516.50 315.10V325.10M516.50 325.10V335.10M516.50 335.10V345.10M516.50 345.10V355.10M516.50 355.10V365.10M516.50 365.10V375.10M516.50 375.10V385.10M516.50 385.10V395.10M516.50 395.10V405.10M516.50 405.10V415.10M516.50 415.10V425.10M516.50 425.10V435.10M516.50 435.10V445.10M516.50 445.10V455.10" stroke="#a2a2a2" stroke-width="0.6" fill="none"/>
<path d="M360.40 76.50H516.50M360.40 86.50H516.50M360.40 96.50H516.50M360.40 106.50H516.50M360.40 116.50H516.50M360.40 126.50H516.50M360.40 136.50H516.50M360.40 146.50H516.50M360.40 156.50H516.50M360.40 166.50H516.50M360.40 176.50H516.50M360.40 185.10H516.50M360.40 195.10H516.50M360.40 205.10H516.50M360.40 215.10H516.50M360.40 225.10H516.50M360.40 235.10H516.50M360.40 245.10H516.50M360.40 255.10H516.50M360.40 265.10H516.50M360.40 275.10H516.50M360.40 285.10H516.50M360.40 295.10H516.50M360.40 305.10H516.50M360.40 315.10H516.50M360.40 325.10H516.50M360.40 335.10H516.50M360.40 345.10H516.50M360.40 355.10H516.50M360.40 365.10H516.50M360.40 375.10H516.50M360.40 385.10H516.50M360.40 395.10H516.50M360.40 405.10H516.50M360.40 415.10H516.50M360.40 425.10H516.50M360.40 435.10H516.50M360.40 445.10H516.50M360.40 455.10H516.50" stroke="#a2a2a2" stroke-width="0.6" fill="none"/>
<rect x="211.20" y="76.10" width="19.30" height="40.60" fill="none" stroke="#000" stroke-width="4.5"/>
<rect x="249.40" y="126.40" width="39.70" height="80.80" fill="none" stroke="#000" stroke-width="4.9"/>
<rect x="399.50" y="77.70" width="19.60" height="147.80" fill="none" stroke="#000" stroke-width="4.7"/>
<rect x="438.50" y="235.60" width="78.10" height="159.70" fill="none" stroke="#000" stroke-width="4.8"/>
<path d="M2.9 20.1H137.4" stroke="#222" stroke-width="1.3"/>
<path d="M172.0 20.1H327.7" stroke="#222" stroke-width="1.3"/>
<path d="M360.3 20.0H516.3" stroke="#222" stroke-width="1.3"/>
<text x="69.95" y="13.6" text-anchor="middle" font-weight="bold" font-size="13.8" fill="#111" stroke="#111" stroke-width="0.25">Vav-SB</text>
<text x="250.1" y="13.0" text-anchor="middle" font-weight="bold" font-size="13.8" fill="#111" stroke="#111" stroke-width="0.25">Lck-SB</text>
<text x="438.7" y="12.9" text-anchor="middle" font-weight="bold" font-size="13.8" fill="#111" stroke="#111" stroke-width="0.25">CD4-SB</text>
<text transform="translate(15.10 71.2) rotate(-90)" font-style="italic" font-size="11.6" fill="#111" stroke="#111" stroke-width="0.2">Notch1</text>
<text transform="translate(34.52 71.2) rotate(-90)" font-style="italic" font-size="11.6" fill="#111" stroke="#111" stroke-width="0.2">Ikzf1</text>
<text transform="translate(53.94 71.2) rotate(-90)" font-style="italic" font-size="11.6" fill="#111" stroke="#111" stroke-width="0.2">Rasgrp1</text>
<text transform="translate(73.36 71.2) rotate(-90)" font-style="italic" font-size="11.6" fill="#111" stroke="#111" stroke-width="0.2">Akt2</text>
<text transform="translate(92.78 71.2) rotate(-90)" font-style="italic" font-size="11.6" fill="#111" stroke="#111" stroke-width="0.2">Zmiz1</text>
<text transform="translate(112.20 71.2) rotate(-90)" font-style="italic" font-size="11.6" fill="#111" stroke="#111" stroke-width="0.2">Erg</text>
<text transform="translate(131.62 71.2) rotate(-90)" font-style="italic" font-size="11.6" fill="#111" stroke="#111" stroke-width="0.2">Runx1</text>
<text transform="translate(183.90 70.9) rotate(-90)" font-style="italic" font-size="11.4" fill="#111" stroke="#111" stroke-width="0.2">Myc</text>
<text transform="translate(203.55 70.9) rotate(-90)" font-style="italic" font-size="11.4" fill="#111" stroke="#111" stroke-width="0.2">Stat5b</text>
<text transform="translate(223.20 70.9) rotate(-90)" font-style="italic" font-size="11.4" fill="#111" stroke="#111" stroke-width="0.2">Gfi1</text>
<text transform="translate(242.85 70.9) rotate(-90)" font-style="italic" font-size="11.4" fill="#111" stroke="#111" stroke-width="0.2">Ghr</text>
<text transform="translate(262.50 70.9) rotate(-90)" font-style="italic" font-size="11.4" fill="#111" stroke="#111" stroke-width="0.2">Whsc1</text>
<text transform="translate(282.15 70.9) rotate(-90)" font-style="italic" font-size="11.4" fill="#111" stroke="#111" stroke-width="0.2">Jak1</text>
<text transform="translate(301.80 70.9) rotate(-90)" font-style="italic" font-size="11.4" fill="#111" stroke="#111" stroke-width="0.2">Notch1*</text>
<text transform="translate(321.45 70.9) rotate(-90)" font-style="italic" font-size="11.4" fill="#111" stroke="#111" stroke-width="0.2">Ikzf1</text>
<text transform="translate(371.90 70.6) rotate(-90)" font-style="italic" font-size="11.4" fill="#111" stroke="#111" stroke-width="0.2">Myc</text>
<text transform="translate(391.50 70.6) rotate(-90)" font-style="italic" font-size="11.4" fill="#111" stroke="#111" stroke-width="0.2">Stat5b</text>
<text transform="translate(411.10 70.6) rotate(-90)" font-style="italic" font-size="11.4" fill="#111" stroke="#111" stroke-width="0.2">Gfi1</text>
<text transform="translate(430.70 70.6) rotate(-90)" font-style="italic" font-size="11.4" fill="#111" stroke="#111" stroke-width="0.2">Ghr</text>
<text transform="translate(450.30 70.6) rotate(-90)" font-style="italic" font-size="11.4" fill="#111" stroke="#111" stroke-width="0.2">Akt2</text>
<text transform="translate(469.90 70.6) rotate(-90)" font-style="italic" font-size="11.4" fill="#111" stroke="#111" stroke-width="0.2">Jak1</text>
<text transform="translate(489.50 70.6) rotate(-90)" font-style="italic" font-size="11.4" fill="#111" stroke="#111" stroke-width="0.2">Whsc1</text>
<text transform="translate(509.10 70.6) rotate(-90)" font-style="italic" font-size="11.4" fill="#111" stroke="#111" stroke-width="0.2">Sos1</text>
<rect x="172.0" y="390.3" width="156.3" height="46.2" fill="#fff" stroke="#6a6a6a" stroke-width="1"/>
<rect x="189.5" y="398.7" width="19.8" height="9.9" fill="#5e5e5e"/>
<rect x="189.5" y="418.4" width="19.8" height="10.2" fill="#e0e0e0" stroke="#bdbdbd" stroke-width="0.6"/>
<text x="218.8" y="406.4" font-size="11.8" fill="#111">mutation present</text>
<text x="218.8" y="426.4" font-size="11.8" fill="#111">mutation absent</text>
</svg>
</body></html>
